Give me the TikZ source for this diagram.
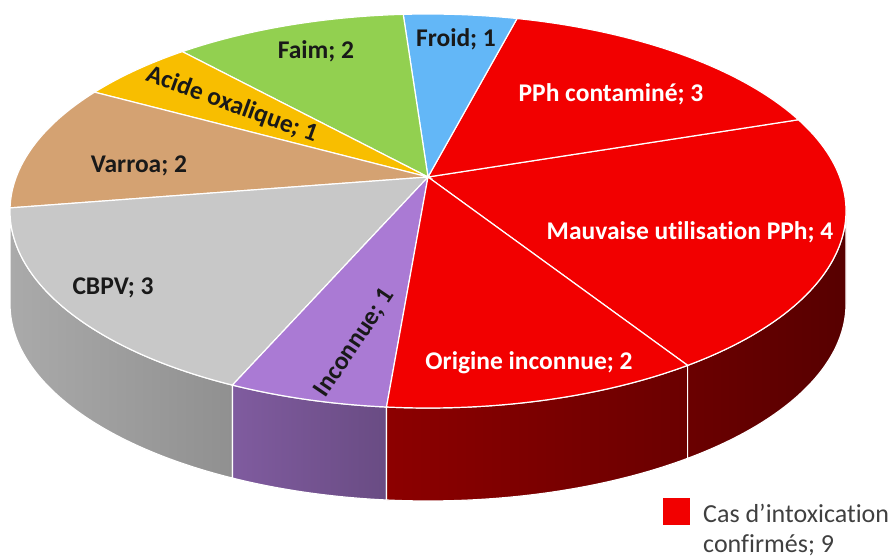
\documentclass[tikz,border=0pt]{standalone}
\usepackage{fontspec}
\setmainfont{Carlito}[Ligatures=NoCommon]
\usepackage{tikz}
\usepackage{xcolor}
\usetikzlibrary{calc}

\definecolor{froidblue}{RGB}{99,183,247}
\definecolor{faimgreen}{RGB}{146,208,80}
\definecolor{acidegold}{RGB}{248,190,0}
\definecolor{varroatan}{RGB}{212,162,114}
\definecolor{cbpvgray}{RGB}{200,200,200}
\definecolor{inconnuepurple}{RGB}{170,122,212}
\definecolor{intoxred}{RGB}{242,0,0}

% top of one slice: start angle, end angle, colour
\newcommand{\topslice}[3]{%
  \filldraw[fill=#3, draw=white, line width=1.2pt] (apex) -- ($(ctr)+(#1:418 and 197)$)
    arc[start angle=#1, end angle=#2, x radius=418, y radius=197] -- cycle;}
% visible side of one slice: start angle, end angle, left and right shade
\newcommand{\sideslice}[4]{%
  \shadedraw[left color=#3, right color=#4, draw=white, line width=1.2pt] ($(ctr)+(#1:418 and 197)$)
    arc[start angle=#1, end angle=#2, x radius=418, y radius=197] -- ++(0,-93)
    arc[start angle=#2, end angle=#1, x radius=418, y radius=197] -- cycle;}

\begin{document}
\begin{tikzpicture}[x=1pt, y=1pt]
            \tikzstyle{every node}+=[inner sep=0pt]
            \tikzstyle{dark label}=[font=\bfseries\fontsize{25.5}{30}\selectfont, text=black!90]
            \tikzstyle{light label}=[font=\bfseries\fontsize{25.5}{30}\selectfont, text=white]
            \tikzstyle{legend text}=[font=\fontsize{26}{31}\selectfont, text=black!75]
            \useasboundingbox (0,0) rectangle (891,559);
            \coordinate (ctr) at (428,348);
            \coordinate (apex) at (428,382);
            % sides
            \sideslice{180}{242.1}{cbpvgray!85!black}{cbpvgray!72!black}
            \sideslice{242.1}{264.3}{inconnuepurple!75!black}{inconnuepurple!62!black}
            \sideslice{264.3}{308.4}{intoxred!58!black}{intoxred!44!black}
            \sideslice{-51.6}{0}{intoxred!44!black}{intoxred!36!black}
            % tops
            \topslice{-51.6}{27.6}{intoxred}
            \topslice{27.6}{77.7}{intoxred}
            \topslice{77.7}{93.4}{froidblue}
            \topslice{93.4}{126}{faimgreen}
            \topslice{126}{142.9}{acidegold}
            \topslice{142.9}{179.1}{varroatan}
            \topslice{179.1}{242.1}{cbpvgray}
            \topslice{242.1}{264.3}{inconnuepurple}
            \topslice{264.3}{308.4}{intoxred}
            % labels
            \node[dark label, anchor=base] (froid) at (456,512) {Froid; 1};
            \node[dark label, anchor=base] (faim) at (316,500) {Faim; 2};
            \node[dark label, rotate=-20] (acide) at (232,454) {Acide oxalique; 1};
            \node[dark label, anchor=base] (varroa) at (139,386) {Varroa; 2};
            \node[dark label, anchor=base] (cbpv) at (113,264) {CBPV; 3};
            \node[dark label, rotate=56] (inconnue) at (355,216) {Inconnue; 1};
            \node[light label, anchor=base] (origine) at (529,189) {Origine inconnue; 2};
            \node[light label, anchor=base] (mauvaise) at (690,319) {Mauvaise utilisation PPh; 4};
            \node[light label, anchor=base] (pph) at (611,457) {PPh contaminé; 3};
            % legend
            \node[fill=intoxred, minimum size=27pt, anchor=south west] (legkey) at (663,34) {};
            \node[legend text, anchor=base west] (legA) at (703,36) {Cas d’intoxication};
            \node[legend text, anchor=base west] (legB) at (703,6) {confirmés; 9};
\end{tikzpicture}
\end{document}
